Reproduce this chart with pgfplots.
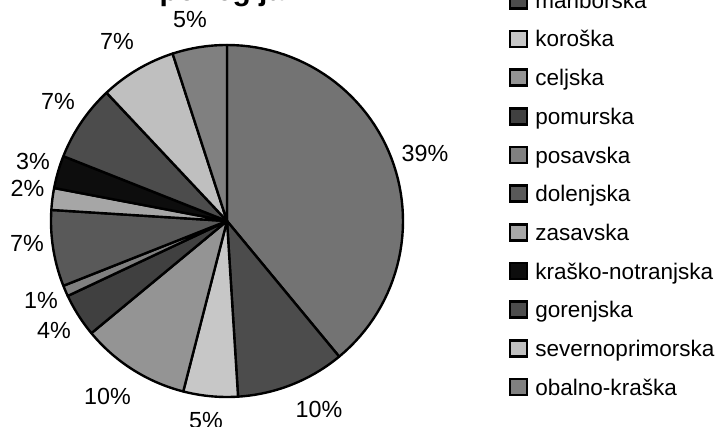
\documentclass[border=0pt]{standalone}
\usepackage{pgfplots}
\pgfplotsset{compat=1.18}
\usepackage{fontspec}
\setmainfont{Liberation Sans}
\colorlet{c1}{black!55}
\colorlet{c2}{black!70}
\colorlet{c3}{black!22}
\colorlet{c4}{black!42}
\colorlet{c5}{black!75}
\colorlet{c6}{black!50}
\colorlet{c7}{black!65}
\colorlet{c8}{black!35}
\colorlet{c9}{black!95}
\colorlet{c10}{black!70}
\colorlet{c11}{black!25}
\colorlet{c12}{black!50}
\begin{document}
\begin{tikzpicture}[x=1bp,y=1bp]
\path[use as bounding box] (0,0) rectangle (363,213.5);
\clip (0,0) rectangle (363,213.5);
\begin{axis}[at={(0,0)}, anchor=south west, scale only axis,
  width=363bp, height=213.5bp, xmin=0, xmax=726, ymin=0, ymax=427,
  hide axis, clip=false]
\xdef\cum{0}
\xdef\idx{-1}
\foreach \nm/\v/\c in {ljubljanska/39/c1, mariborska/10/c2, koroška/5/c3,
  celjska/10/c4, pomurska/4/c5, posavska/1/c6, dolenjska/7/c7,
  zasavska/2/c8, kraško-notranjska/3/c9, gorenjska/7/c10,
  severnoprimorska/7/c11, obalno-kraška/5/c12}{
  \pgfmathsetmacro\a{90-3.6*\cum}
  \pgfmathsetmacro\b{90-3.6*(\cum+\v)}
  \pgfmathsetmacro\yb{427-(47+38.67*(\idx-1))}
  \pgfmathsetmacro\ybt{\yb+16}
  \edef\temp{
    \noexpand\addplot[fill=\c, draw=black, line width=1.2pt, line join=round,
      domain=\b:\a, samples=60] ({227+176*cos(x)},{206+176*sin(x)})
      -- (axis cs:227,206) -- cycle;
    \noexpand\draw[fill=\c, draw=black, line width=1.2pt]
      (axis cs:510,\yb) rectangle (axis cs:527,\ybt);
    \noexpand\node[anchor=base west, inner sep=0pt,
      font=\noexpand\fontsize{11.3}{13}\noexpand\selectfont]
      at (axis cs:535,\yb) {\nm};
  }
  \temp
  \pgfmathsetmacro\cum{\cum+\v}\xdef\cum{\cum}
  \pgfmathtruncatemacro\idx{\idx+1}\xdef\idx{\idx}
}
\node[anchor=base, font=\bfseries\fontsize{15}{18}\selectfont] at (axis cs:231,426) {po regijah};
\begin{scope}[every node/.style={anchor=base, inner sep=0pt, font=\fontsize{11.7}{14}\selectfont}]
\node at (axis cs:425,265) {39\%};
\node at (axis cs:190,399) {5\%};
\node at (axis cs:117,377) {7\%};
\node at (axis cs:58,317) {7\%};
\node at (axis cs:33,257) {3\%};
\node at (axis cs:27.5,230) {2\%};
\node at (axis cs:27,175) {7\%};
\node at (axis cs:41,118) {1\%};
\node at (axis cs:54,88) {4\%};
\node at (axis cs:107.5,23) {10\%};
\node at (axis cs:206,-1) {5\%};
\node at (axis cs:319,10) {10\%};
\end{scope}
\end{axis}
\end{tikzpicture}
\end{document}
